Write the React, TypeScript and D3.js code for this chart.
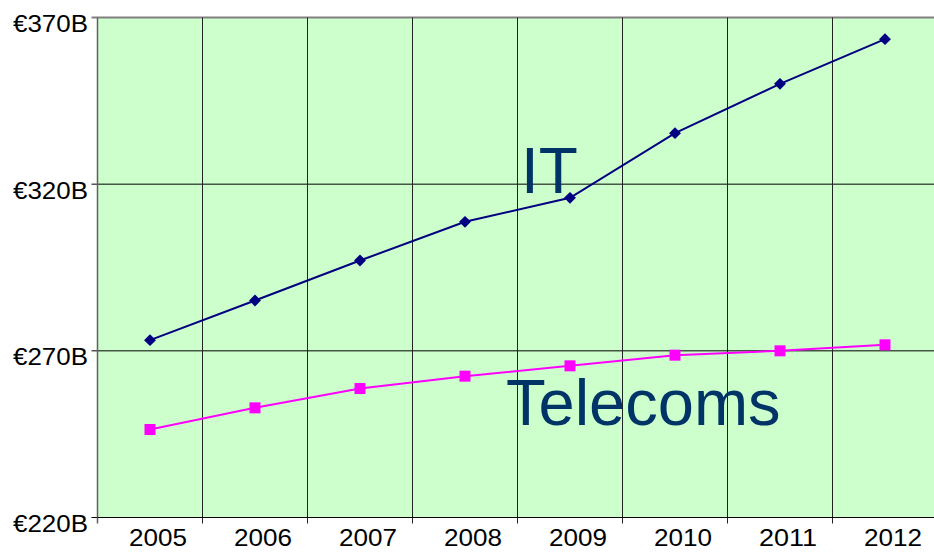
import React from "react";
import * as d3 from "d3";

const years = ["2005", "2006", "2007", "2008", "2009", "2010", "2011", "2012"];
const itValues = [273.2, 285.1, 297.1, 308.7, 315.9, 335.3, 350.1, 363.5];
const telecomValues = [246.4, 252.9, 258.7, 262.4, 265.5, 268.7, 270.0, 271.8];
const yTicks = [220, 270, 320, 370];

const W = 934;
const H = 552;
const left = 97.5;
const right = 937.5;
const top = 17.5;
const bottom = 517.5;

export default function App() {
  const x = d3.scaleBand<string>().domain(years).range([left, right]).padding(0);
  const y = d3.scaleLinear().domain([220, 370]).range([bottom, top]);
  const cx = (d: string) => (x(d) as number) + x.bandwidth() / 2;
  const line = d3.line<number>().x((_, i) => cx(years[i])).y((v) => y(v));
  const font = "'Liberation Sans', Arial, sans-serif";
  const boundaries = years.map((d) => x(d) as number).concat([right]);

  return (
    <svg width={W} height={H} style={{ position: "absolute", left: 0, top: 0 }} fontFamily={font}>
      <rect x={0} y={0} width={W} height={H} fill="#ffffff" />
      <rect x={left} y={top} width={right - left} height={bottom - top} fill="#ccffcc" />
      {yTicks.map((t) => (
        <line key={"h" + t} x1={left - 6} x2={right} y1={y(t)} y2={y(t)}
          stroke={t === 370 ? "#808080" : "#000"} strokeWidth={t === 370 ? 2 : 1} />
      ))}
      {boundaries.map((b, i) => (
        <line key={"v" + i} x1={b} x2={b} y1={top} y2={bottom + 6}
          stroke={i === 0 ? "#606060" : "#222"} strokeWidth={i === 0 ? 1.5 : 1} />
      ))}
      <line x1={left} x2={right} y1={bottom} y2={bottom} stroke="#000" strokeWidth={1} />
      {yTicks.map((t) => (
        <text key={"yl" + t} x={88} y={y(t) + 14.5} textAnchor="end" fontSize={23}
          textLength={75} lengthAdjust="spacingAndGlyphs" fill="#000">
          {"€" + t + "B"}
        </text>
      ))}
      {years.map((d) => (
        <text key={"xl" + d} x={cx(d) + 8} y={546} textAnchor="middle" fontSize={24}
          textLength={58} lengthAdjust="spacingAndGlyphs" fill="#000">
          {d}
        </text>
      ))}
      <path d={line(telecomValues) || ""} fill="none" stroke="#ff00ff" strokeWidth={2} />
      {telecomValues.map((v, i) => (
        <rect key={"t" + i} x={cx(years[i]) - 5.5} y={y(v) - 5.5} width={11} height={11} fill="#ff00ff" />
      ))}
      <path d={line(itValues) || ""} fill="none" stroke="#000080" strokeWidth={2} />
      {itValues.map((v, i) => (
        <rect key={"i" + i} x={-4.2} y={-4.2} width={8.4} height={8.4} fill="#000080"
          transform={`translate(${cx(years[i])},${y(v)}) rotate(45)`} />
      ))}
      <text x={521} y={193} fontSize={64} fill="#003366">IT</text>
      <text x={506} y={425} fontSize={65} fill="#003366">Telecoms</text>
    </svg>
  );
}
